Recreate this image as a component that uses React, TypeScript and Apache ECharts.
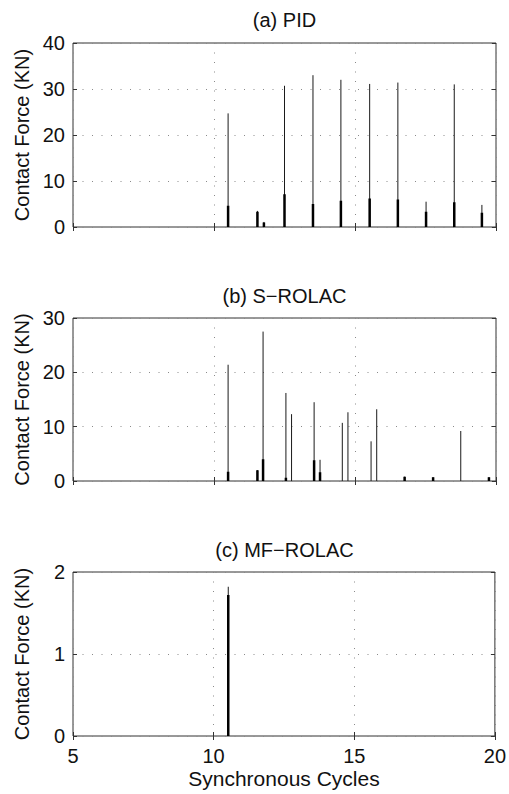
import React, { useEffect, useRef } from "react";
import * as echarts from "echarts";

// ---- data ----
const PANEL_TITLES = ["(a) PID", "(b) S\u2212ROLAC", "(c) MF\u2212ROLAC"];
const Y_NAME = "Contact Force (KN)";
const X_NAME = "Synchronous Cycles";

const X_MIN = 5;
const X_MAX = 20;
const X_INTERVAL = 5;

const Y_MAX = [40, 30, 2];
const Y_INTERVAL = [10, 10, 1];

// (a) PID spikes
const pidX = [10.5, 11.54, 11.77, 12.5, 13.51, 14.5, 15.52, 16.52, 17.52, 18.52, 19.5];
const pidPeak = [24.7, 3.5, 1.1, 30.7, 33.0, 32.0, 31.1, 31.4, 5.5, 31.0, 4.8];
const pidSub = [4.6, 3.3, 1.0, 7.1, 5.0, 5.7, 6.2, 6.0, 3.3, 5.4, 3.1];

// (b) S-ROLAC spikes
const srX = [10.5, 11.54, 11.74, 12.55, 12.75, 13.55, 13.76, 14.55, 14.75, 15.57, 15.77, 16.76, 17.77, 18.75, 19.75];
const srPeak = [21.4, 2.0, 27.5, 16.2, 12.3, 14.5, 3.9, 10.7, 12.65, 7.3, 13.2, 0.8, 0.7, 9.2, 0.7];
const srSub = [1.7, 2.0, 4.0, 0.6, 0, 3.8, 1.6, 0, 0, 0, 0, 0.8, 0.7, 0, 0.7];

// (c) MF-ROLAC spikes
const mfX = [10.52];
const mfPeak = [1.82];
const mfSub = [1.72];

const PANELS = [
  { xs: pidX, peak: pidPeak, sub: pidSub },
  { xs: srX, peak: srPeak, sub: srSub },
  { xs: mfX, peak: mfPeak, sub: mfSub },
];

function spikes(xs: number[], hs: number[]) {
  const out: any[] = [];
  xs.forEach((x, i) => {
    if (!hs[i]) return;
    out.push([x, 0], [x, hs[i]], [x, NaN]);
  });
  return out;
}

const FONT = "Liberation Sans, Arial, sans-serif";

export default function App() {
  const ref = useRef<HTMLDivElement>(null);
  useEffect(() => {
    if (!ref.current) return;
    const chart = echarts.init(ref.current, undefined, { renderer: "svg" });

    const GRID_TOP = [43, 318, 572];
    const GRID_H = [184, 163, 164];
    const TITLE_Y = [20, 296, 550];

    const grids: any[] = [];
    const xAxes: any[] = [];
    const yAxes: any[] = [];
    const series: any[] = [];
    const graphics: any[] = [];

    const dotted = { color: "#8a8a8a", width: 1, type: [1, 8.5] as any };
    const tick = { show: true, inside: true, length: 4, lineStyle: { color: "#333" } };

    PANELS.forEach((p, i) => {
      grids.push({
        left: 73,
        right: 13,
        top: GRID_TOP[i],
        height: GRID_H[i],
        show: true,
        borderColor: "#333",
        borderWidth: 1,
        backgroundColor: "transparent",
      });
      const last = i === PANELS.length - 1;
      xAxes.push({
        type: "value",
        gridIndex: i,
        min: X_MIN,
        max: X_MAX,
        interval: X_INTERVAL,
        position: "bottom",
        axisLine: { show: false },
        axisTick: tick,
        axisLabel: {
          show: last,
          fontSize: 20,
          fontFamily: FONT,
          color: "#111",
          margin: 10,
        },
        splitLine: { show: true, lineStyle: dotted },
        name: last ? X_NAME : "",
        nameLocation: "middle",
        nameGap: 32,
        nameTextStyle: { fontSize: 21, fontFamily: FONT, color: "#111" },
      });
      xAxes.push({
        type: "value",
        gridIndex: i,
        min: X_MIN,
        max: X_MAX,
        interval: X_INTERVAL,
        position: "top",
        axisLine: { show: false },
        axisTick: tick,
        axisLabel: { show: false },
        splitLine: { show: false },
      });
      yAxes.push({
        type: "value",
        gridIndex: i,
        min: 0,
        max: Y_MAX[i],
        interval: Y_INTERVAL[i],
        position: "left",
        axisLine: { show: false },
        axisTick: tick,
        axisLabel: { fontSize: 20, fontFamily: FONT, color: "#111", margin: 8 },
        splitLine: { show: true, lineStyle: dotted },
        name: Y_NAME,
        nameLocation: "middle",
        nameGap: 41,
        nameTextStyle: { fontSize: 20, fontFamily: FONT, color: "#111" },
      });
      yAxes.push({
        type: "value",
        gridIndex: i,
        min: 0,
        max: Y_MAX[i],
        interval: Y_INTERVAL[i],
        position: "right",
        axisLine: { show: false },
        axisTick: tick,
        axisLabel: { show: false },
        splitLine: { show: false },
      });
      series.push({
        type: "line",
        xAxisIndex: i * 2,
        yAxisIndex: i * 2,
        data: spikes(p.xs, p.peak),
        showSymbol: false,
        symbol: "none",
        connectNulls: false,
        lineStyle: { color: "#1a1a1a", width: 1 },
        silent: true,
      });
      series.push({
        type: "line",
        xAxisIndex: i * 2,
        yAxisIndex: i * 2,
        data: spikes(p.xs, p.sub),
        showSymbol: false,
        symbol: "none",
        connectNulls: false,
        lineStyle: { color: "#000", width: 2.5 },
        silent: true,
      });
      graphics.push({
        type: "text",
        x: 284.5,
        y: TITLE_Y[i],
        style: {
          text: PANEL_TITLES[i],
          textAlign: "center",
          textVerticalAlign: "middle",
          fontSize: 20,
          fontFamily: FONT,
          fill: "#111",
        },
      });
    });

    chart.setOption({
      animation: false,
      backgroundColor: "#fff",
      grid: grids,
      xAxis: xAxes,
      yAxis: yAxes,
      series,
      graphic: graphics,
    });
    return () => chart.dispose();
  }, []);
  return (
    <div
      ref={ref}
      style={{ position: "fixed", left: 0, top: 0, width: 509, height: 794 }}
    />
  );
}
